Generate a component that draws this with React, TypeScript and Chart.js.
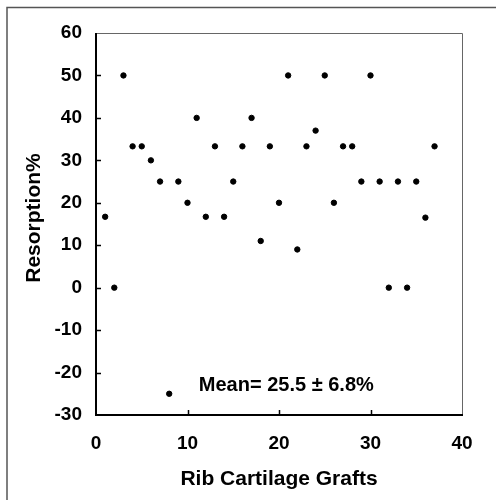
import React, { useEffect, useRef } from "react";
import { Chart, registerables } from "chart.js";

Chart.register(...registerables);

const graftNumbers = [1,2,3,4,5,6,7,8,9,10,11,12,13,14,15,16,17,18,19,20,21,22,23,24,25,26,27,28,29,30,31,32,33,34,35,36,37];
const resorption = [16.7,0,50,33.3,33.3,30,25,-25,25,20,40,16.7,33.3,16.7,25,33.3,40,11,33.3,20,50,9,33.3,37,50,20,33.3,33.3,25,50,25,0,25,0,25,16.5,33.3];
const xTicks = [0, 10, 20, 30, 40];
const yTicks = [-30, -20, -10, 0, 10, 20, 30, 40, 50, 60];
const xTitle = "Rib Cartilage Grafts";
const yTitle = "Resorption%";
const meanLabel = "Mean= 25.5 \u00b1 6.8%";

const FONT = "'Liberation Sans', Arial, sans-serif";

const framePlugin = {
  id: "frame",
  beforeDraw(chart: any) {
    const ctx = chart.ctx;
    ctx.save();
    ctx.fillStyle = "#fff";
    ctx.fillRect(0, 0, chart.width, chart.height);
    ctx.strokeStyle = "#555";
    ctx.lineWidth = 1.5;
    ctx.beginPath();
    ctx.moveTo(7, 500);
    ctx.lineTo(7, 7.5);
    ctx.lineTo(496, 7.5);
    ctx.stroke();
    ctx.restore();
  },
  afterDraw(chart: any) {
    const ctx = chart.ctx;
    const a = chart.chartArea;
    const xs = chart.scales.x;
    const ys = chart.scales.y;
    ctx.save();
    ctx.strokeStyle = "#666";
    ctx.lineWidth = 1;
    ctx.beginPath();
    ctx.moveTo(a.left, a.top + 0.5);
    ctx.lineTo(a.right + 0.5, a.top + 0.5);
    ctx.lineTo(a.right + 0.5, a.bottom);
    ctx.stroke();
    ctx.strokeStyle = "#000";
    ctx.lineWidth = 2;
    ctx.beginPath();
    ctx.moveTo(a.left, a.top);
    ctx.lineTo(a.left, a.bottom);
    ctx.lineTo(a.right + 1, a.bottom);
    ctx.stroke();
    ctx.lineWidth = 1.5;
    ctx.beginPath();
    for (const v of yTicks) {
      if (v === yTicks[0] || v === yTicks[yTicks.length - 1]) continue;
      const y = Math.round(ys.getPixelForValue(v)) + 0.5;
      ctx.moveTo(a.left, y);
      ctx.lineTo(a.left + 5, y);
    }
    for (const v of xTicks) {
      if (v === xTicks[0] || v === xTicks[xTicks.length - 1]) continue;
      const x = Math.round(xs.getPixelForValue(v)) + 0.5;
      ctx.moveTo(x, a.bottom);
      ctx.lineTo(x, a.bottom - 5);
    }
    ctx.stroke();
    ctx.fillStyle = "#000";
    ctx.font = `bold 20px ${FONT}`;
    ctx.textAlign = "center";
    ctx.textBaseline = "middle";
    ctx.fillText(meanLabel, xs.getPixelForValue(20.8), ys.getPixelForValue(-23));
    ctx.font = `bold 21px ${FONT}`;
    ctx.fillText(xTitle, (a.left + a.right) / 2, 479);
    ctx.translate(34, 218);
    ctx.rotate(-Math.PI / 2);
    ctx.fillText(yTitle, 0, 0);
    ctx.restore();
  },
};

export default function App() {
  const ref = useRef<HTMLCanvasElement | null>(null);
  useEffect(() => {
    document.body.style.margin = "0";
    const chart = new Chart(ref.current as HTMLCanvasElement, {
      type: "scatter",
      data: {
        datasets: [
          {
            data: graftNumbers.map((x, i) => ({ x, y: resorption[i] })),
            backgroundColor: "#000",
            borderColor: "#000",
            pointRadius: 2.7,
            pointHoverRadius: 2.7,
          },
        ],
      },
      options: {
        animation: false,
        responsive: false,
        events: [],
        layout: { padding: { top: 33, right: 34, left: 0, bottom: 0 } },
        plugins: { legend: { display: false }, tooltip: { enabled: false } },
        scales: {
          x: {
            type: "linear",
            min: 0,
            max: 40,
            afterBuildTicks: (s: any) => {
              s.ticks = xTicks.map((v) => ({ value: v }));
            },
            afterFit: (s: any) => {
              s.height = 85;
            },
            grid: { display: false, drawTicks: false },
            border: { display: false },
            ticks: {
              color: "#000",
              padding: 17,
              font: { family: FONT, size: 19, weight: "bold" },
            },
          },
          y: {
            type: "linear",
            min: -30,
            max: 60,
            afterBuildTicks: (s: any) => {
              s.ticks = yTicks.map((v) => ({ value: v }));
            },
            afterFit: (s: any) => {
              s.width = 96;
            },
            grid: { display: false, drawTicks: false },
            border: { display: false },
            ticks: {
              color: "#000",
              padding: 14,
              font: { family: FONT, size: 19, weight: "bold" },
            },
          },
        },
      },
      plugins: [framePlugin],
    });
    return () => chart.destroy();
  }, []);
  return (
    <div style={{ width: 496, height: 500 }}>
      <canvas ref={ref} width={496} height={500} style={{ display: "block" }} />
    </div>
  );
}
